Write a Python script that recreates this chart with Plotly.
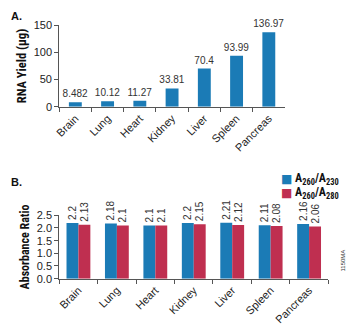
import plotly.graph_objects as go

tissues = ["Brain", "Lung", "Heart", "Kidney", "Liver", "Spleen", "Pancreas"]
rna_yield = [8.482, 10.12, 11.27, 33.81, 70.4, 93.99, 136.97]
a260_230 = [2.2, 2.18, 2.1, 2.2, 2.21, 2.11, 2.16]
a260_280 = [2.13, 2.1, 2.1, 2.15, 2.12, 2.08, 2.06]
legend_names = ["A<sub>260</sub>/A<sub>230</sub>", "A<sub>260</sub>/A<sub>280</sub>"]

BLUE = "#1b7bb6"
RED = "#bf2f50"
AX = "#555555"
FONT = "Liberation Sans, Arial, sans-serif"
NARROW = "Liberation Sans Narrow, Arial Narrow, Roboto Condensed, Liberation Sans, sans-serif"

fig = go.Figure()
fig.add_trace(go.Bar(
    x=tissues, y=rna_yield, width=0.4, marker_color=BLUE,
    text=[str(v) for v in rna_yield], textposition="outside", constraintext="none",
    textfont=dict(size=10, color="#333", family=FONT), cliponaxis=False,
    showlegend=False, xaxis="x", yaxis="y"))
fig.add_trace(go.Bar(
    x=tissues, y=a260_230, width=0.31, offset=-0.31, marker_color=BLUE,
    text=[str(v) for v in a260_230], textposition="outside", textangle=-90,
    constraintext="none",
    textfont=dict(size=10, color="#333", family=FONT), cliponaxis=False,
    showlegend=False, xaxis="x2", yaxis="y2"))
fig.add_trace(go.Bar(
    x=tissues, y=a260_280, width=0.31, offset=0.0, marker_color=RED,
    text=[str(v) for v in a260_280], textposition="outside", textangle=-90,
    constraintext="none",
    textfont=dict(size=10, color="#333", family=FONT), cliponaxis=False,
    showlegend=False, xaxis="x2", yaxis="y2"))

xcommon = dict(showline=True, linecolor=AX, linewidth=1, ticks="outside",
               tickson="boundaries", ticklen=4, tickcolor=AX, showgrid=False,
               tickangle=-45, tickfont=dict(size=11, color="#222", family=FONT))
ycommon = dict(showline=True, linecolor=AX, linewidth=1, ticks="outside",
               ticklen=4, tickcolor=AX, showgrid=False, zeroline=False,
               tickfont=dict(size=11, color="#222", family=FONT))

annotations = [
    dict(text="<b>A.</b>", x=4/350, y=1-10/326, xref="paper", yref="paper",
         xanchor="left", yanchor="middle", showarrow=False,
         font=dict(size=11, color="#111", family=FONT)),
    dict(text="<b>B.</b>", x=4/350, y=1-183/326, xref="paper", yref="paper",
         xanchor="left", yanchor="middle", showarrow=False,
         font=dict(size=11, color="#111", family=FONT)),
    dict(text="1150MA", x=343/350, y=1-265/326, xref="paper", yref="paper",
         xanchor="center", yanchor="middle", showarrow=False, textangle=-90,
         font=dict(size=6, color="#333", family=FONT)),
]
for i, (nm, col) in enumerate(zip(legend_names, [BLUE, RED])):
    yy = 1 - (180 + 15 * i) / 326
    annotations.append(dict(text="■", x=286/350, y=yy, xref="paper", yref="paper",
                            xanchor="center", yanchor="middle", showarrow=False,
                            font=dict(size=12, color=col, family="DejaVu Sans")))
    annotations.append(dict(text="<b>" + nm + "</b>", x=292/350, y=yy,
                            xref="paper", yref="paper",
                            xanchor="left", yanchor="middle", showarrow=False,
                            font=dict(size=12, color="#111", family=NARROW)))

fig.update_layout(
    width=350, height=326, margin=dict(l=0, r=0, t=0, b=0),
    paper_bgcolor="white", plot_bgcolor="white",
    barmode="overlay", showlegend=False,
    xaxis=dict(domain=[55/350, 284/350], anchor="y", **xcommon),
    yaxis=dict(domain=[1-105/326, 1-20/326], anchor="x", range=[0, 150],
               tickvals=[0, 50, 100, 150],
               title=dict(text="<b>RNA Yield (µg)</b>", standoff=4,
                          font=dict(size=12.5, color="#111", family=NARROW)),
               **ycommon),
    xaxis2=dict(domain=[55/350, 328/350], anchor="y2", **xcommon),
    yaxis2=dict(domain=[1-284/326, 1-218/326], anchor="x2", range=[0, 2.5],
                tickvals=[0, 0.5, 1.0, 1.5, 2.0, 2.5], tickformat=".1f",
                title=dict(text="<b>Absorbance Ratio</b>", standoff=4,
                           font=dict(size=12, color="#111", family=NARROW)),
                **ycommon),
    annotations=annotations,
)
fig.update_traces(selector=dict(type="bar"), marker_line_width=0)

fig.write_html("out.html")
